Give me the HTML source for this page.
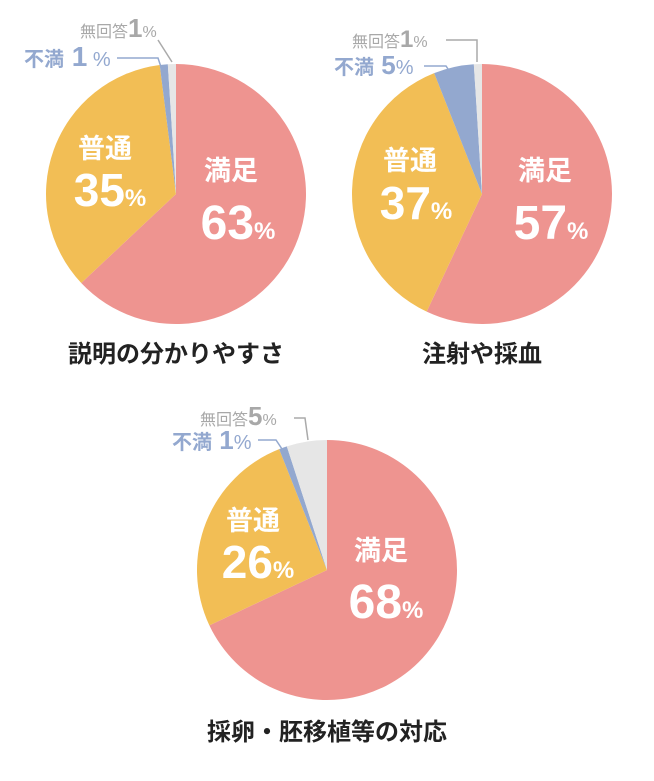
<!DOCTYPE html>
<html><head><meta charset="utf-8"><style>
body{margin:0;background:#fff;}
svg text{font-family:"Liberation Sans","Noto Sans CJK JP",sans-serif;font-weight:bold;}
svg text.n{font-weight:normal;}
</style></head><body>
<svg id="s" width="654" height="776" xmlns="http://www.w3.org/2000/svg">
<g id="pies"></g>
<g fill="#fff" text-anchor="middle">
<text x="231" y="180" font-size="27">満足</text>
<text x="238" y="239" font-size="48">63<tspan font-size="24">%</tspan></text>
<text x="105" y="158" font-size="27">普通</text>
<text x="110" y="206" font-size="46">35<tspan font-size="24">%</tspan></text>
<text x="545" y="180" font-size="27">満足</text>
<text x="551" y="239" font-size="48">57<tspan font-size="24">%</tspan></text>
<text x="410" y="170" font-size="27">普通</text>
<text x="416" y="219" font-size="46">37<tspan font-size="24">%</tspan></text>
<text x="381" y="560" font-size="27">満足</text>
<text x="386" y="618" font-size="48">68<tspan font-size="24">%</tspan></text>
<text x="253" y="530" font-size="27">普通</text>
<text x="258" y="578" font-size="46">26<tspan font-size="24">%</tspan></text>
</g>
<g font-size="24" fill="#222" text-anchor="middle">
<text x="176" y="362">説明の分かりやすさ</text>
<text x="482" y="362">注射や採血</text>
<text x="327" y="740">採卵・胚移植等の対応</text>
</g>
<g fill="none" stroke-width="1.5">
<path d="M158 40 L172 62" stroke="#aaa"/>
<path d="M117 58 H158 L162 70" stroke="#93a8cf"/>
<path d="M446 40 H477 V62" stroke="#aaa"/>
<path d="M424 66 H446 L450 72" stroke="#93a8cf"/>
<path d="M294 418 H305 L308 440" stroke="#aaa"/>
<path d="M258 440 H276 L284 452" stroke="#93a8cf"/>
</g>
<g font-size="16" fill="#a8a8a8">
<text class="n" x="80" y="37">無回答<tspan font-size="26" font-weight="bold">1</tspan>%</text>
<text class="n" x="352" y="47">無回答<tspan font-size="24" font-weight="bold">1</tspan>%</text>
<text class="n" x="200" y="425">無回答<tspan font-size="26" font-weight="bold">5</tspan>%</text>
</g>
<g font-size="20" fill="#93a8cf">
<text x="24" y="66">不満<tspan font-size="28"> 1</tspan><tspan class="n" font-weight="normal"> %</tspan></text>
<text x="334" y="74">不満<tspan font-size="26"> 5</tspan><tspan font-weight="normal">%</tspan></text>
<text x="172" y="449">不満<tspan font-size="26"> 1</tspan><tspan font-weight="normal">%</tspan></text>
</g>
</svg>
<script>
var cols=["#ee9490","#f2be55","#93a8cf","#e6e6e6"];
var pies=[[176,194,[63,35,1,1]],[482,194,[57,37,5,1]],[327,570,[68,26,1,5]]];
var g=document.getElementById("pies"),h="";
pies.forEach(function(p){var cx=p[0],cy=p[1],r=130,a=0;
p[2].forEach(function(v,i){var a0=a/100*2*Math.PI,a1=(a+v)/100*2*Math.PI;a+=v;
var x0=cx+r*Math.sin(a0),y0=cy-r*Math.cos(a0),x1=cx+r*Math.sin(a1),y1=cy-r*Math.cos(a1);
h+='<path fill="'+cols[i]+'" d="M'+cx+' '+cy+' L'+x0+' '+y0+' A'+r+' '+r+' 0 '+(v>50?1:0)+' 1 '+x1+' '+y1+' Z"/>';});});
g.innerHTML=h;
</script>
</body></html>
